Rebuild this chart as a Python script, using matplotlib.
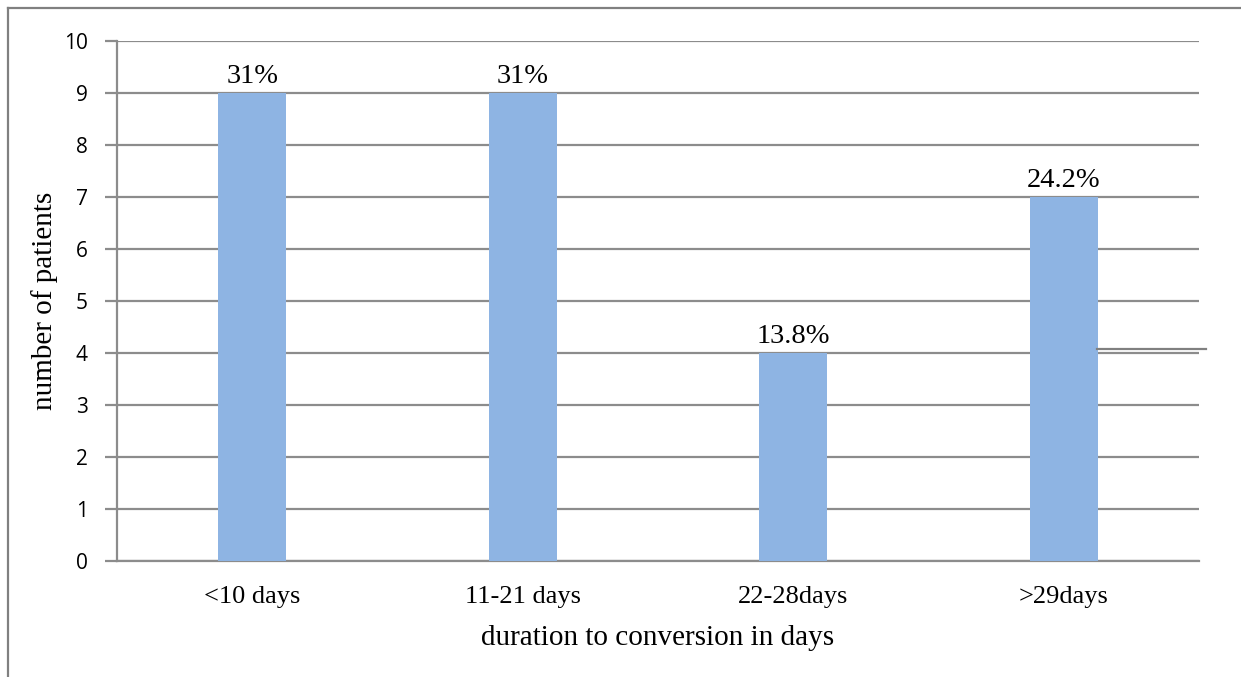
import matplotlib.pyplot as plt
from matplotlib.lines import Line2D

# data
categories = ["<10 days", "11-21 days", "22-28days", ">29days"]
patients = [9, 9, 4, 7]
percent_labels = ["31%", "31%", "13.8%", "24.2%"]

serif = "Liberation Serif"
sans = "Open Sans"

fig = plt.figure(figsize=(12.41, 6.77), dpi=100)
ax = fig.add_axes([0.0943, 0.1713, 0.8719, 0.7681])

x = range(len(categories))
bars = ax.bar(x, patients, width=0.25, color="#8EB4E3", zorder=3)

for bar, lab in zip(bars, percent_labels):
    ax.text(bar.get_x() + bar.get_width() / 2, bar.get_height() + 0.08, lab,
            ha="center", va="bottom", fontsize=20.5, family=serif)

ax.set_xlim(-0.5, len(categories) - 0.5)
ax.set_ylim(0, 10)
ax.set_yticks(range(0, 11))
ax.set_xticks(list(x))
ax.set_xticklabels(categories, fontsize=19, family=serif)
for t in ax.get_yticklabels():
    t.set_fontsize(15)
    t.set_family(sans)

ax.grid(axis="y", color="#8C8C8C", linewidth=1.6, zorder=0)
ax.tick_params(axis="y", length=9, width=1.6, color="#8C8C8C", pad=12)
ax.tick_params(axis="x", length=0, pad=18)

for side in ["top", "right"]:
    ax.spines[side].set_visible(False)
ax.spines["left"].set_color("#8C8C8C")
ax.spines["left"].set_linewidth(1.6)
ax.spines["bottom"].set_color("#8C8C8C")
ax.spines["bottom"].set_linewidth(1.6)

ax.set_xlabel("duration to conversion in days", fontsize=21, family=serif, labelpad=12)
ax.set_ylabel("number of patients", fontsize=21, family=serif, labelpad=4)

# outer frame and stray line from the original
fig.add_artist(Line2D([8 / 1241, 8 / 1241], [0, 1 - 8 / 677],
                      transform=fig.transFigure, color="#808080", linewidth=1.6))
fig.add_artist(Line2D([8 / 1241, 1], [1 - 8 / 677, 1 - 8 / 677],
                      transform=fig.transFigure, color="#808080", linewidth=1.6))
fig.add_artist(Line2D([1097 / 1241, 1206 / 1241], [1 - 349 / 677, 1 - 349 / 677],
                      transform=fig.transFigure, color="#808080", linewidth=1.6))

fig.savefig("out.png", dpi=100)
